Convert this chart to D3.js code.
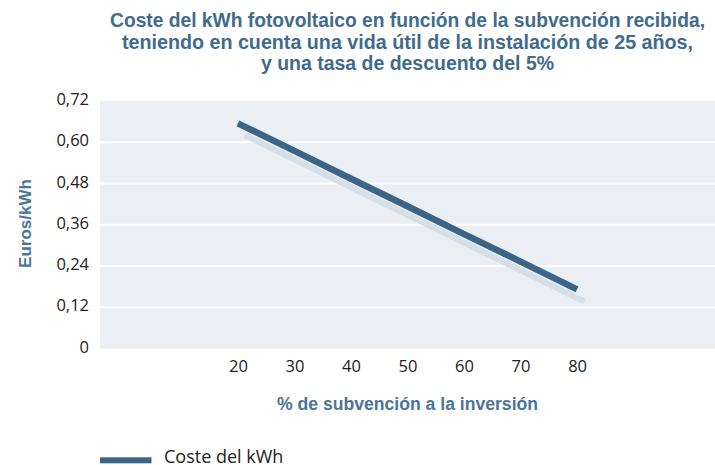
<!DOCTYPE html>
<html><head><meta charset="utf-8">
<script src="https://cdn.jsdelivr.net/npm/d3@7"></script>
<style>body{margin:0;background:#fff}svg{display:block}</style>
</head><body>
<svg id="c" width="715" height="465"></svg>
<script>
const titleLines = ["Coste del kWh fotovoltaico en función de la subvención recibida,",
  "teniendo en cuenta una vida útil de la instalación de 25 años,",
  "y una tasa de descuento del 5%"];
const titleWidths = [595, 571, 293];
const subsidy = [20, 30, 40, 50, 60, 70, 80];
const cost = [0.655, 0.575, 0.494, 0.414, 0.333, 0.253, 0.172];
const yTicks = [0, 0.12, 0.24, 0.36, 0.48, 0.60, 0.72];
const yTitle = "Euros/kWh";
const xTitle = "% de subvención a la inversión";
const seriesName = "Coste del kWh";

const svg = d3.select("#c");
const L = 100, R = 715, T = 101, B = 348.6;
const x = d3.scaleLinear().domain([-4.4, 104.4]).range([L, R]);
const y = d3.scaleLinear().domain([0, 0.72]).range([B, T]);
const dark = "#3a6586", titleC = "#3f6b8c";

svg.append("rect").attr("x", L).attr("y", T).attr("width", R - L).attr("height", B - T).attr("fill", "#ebeef3");
svg.append("g").selectAll("line").data(yTicks.filter(d => d > 0 && d < 0.72)).join("line")
  .attr("x1", L).attr("x2", R).attr("y1", d => y(d)).attr("y2", d => y(d))
  .attr("stroke", "#fff").attr("stroke-width", 2);

const fmt = d => d === 0 ? "0" : d3.format(".2f")(d).replace(".", ",");
const yAxis = svg.append("g").attr("transform", `translate(${L - 11},0)`)
  .call(d3.axisLeft(y).tickValues(yTicks).tickFormat(fmt).tickSize(0).tickPadding(0));
yAxis.select(".domain").remove();
yAxis.selectAll("text").attr("font-family", "Open Sans").attr("font-size", 16.5).attr("fill", "#222").attr("dy", "0.22em");

const xAxis = svg.append("g").attr("transform", `translate(0,${B})`)
  .call(d3.axisBottom(x).tickValues(subsidy).tickFormat(d3.format("d")).tickSize(0).tickPadding(0));
xAxis.select(".domain").remove();
xAxis.selectAll("text").attr("font-family", "Open Sans").attr("font-size", 16.5).attr("fill", "#222").attr("dy", "23");

const line = d3.line().x((d, i) => x(subsidy[i])).y(d => y(d));
svg.append("path").datum(cost).attr("d", line).attr("transform", "translate(7,12)")
  .attr("fill", "none").attr("stroke", "#d6dee7").attr("stroke-width", 6);
svg.append("path").datum(cost).attr("d", line)
  .attr("fill", "none").attr("stroke", dark).attr("stroke-width", 6.5);

svg.append("g").selectAll("text").data(titleLines).join("text")
  .attr("x", 407.5).attr("y", (d, i) => 27 + i * 21.5).attr("text-anchor", "middle")
  .attr("font-family", "Liberation Sans").attr("font-weight", "bold").attr("font-size", 19.5)
  .attr("textLength", (d, i) => titleWidths[i]).attr("lengthAdjust", "spacingAndGlyphs")
  .attr("fill", titleC).text(d => d);

svg.append("text").attr("x", 407.5).attr("y", 410).attr("text-anchor", "middle")
  .attr("font-family", "Liberation Sans").attr("font-weight", "bold").attr("font-size", 17.6)
  .attr("fill", "#4a7597").text(xTitle);

svg.append("text").attr("transform", "translate(30.5,223.5) rotate(-90)").attr("text-anchor", "middle")
  .attr("font-family", "Liberation Sans").attr("font-weight", "bold").attr("font-size", 17)
  .attr("fill", "#4a7597").text(yTitle);

svg.append("rect").attr("x", 100).attr("y", 457.3).attr("width", 51.5).attr("height", 6).attr("fill", dark);
svg.append("text").attr("x", 164).attr("y", 462.5).attr("font-family", "Open Sans").attr("font-size", 18)
  .attr("fill", "#222").text(seriesName);
</script>
</body></html>
